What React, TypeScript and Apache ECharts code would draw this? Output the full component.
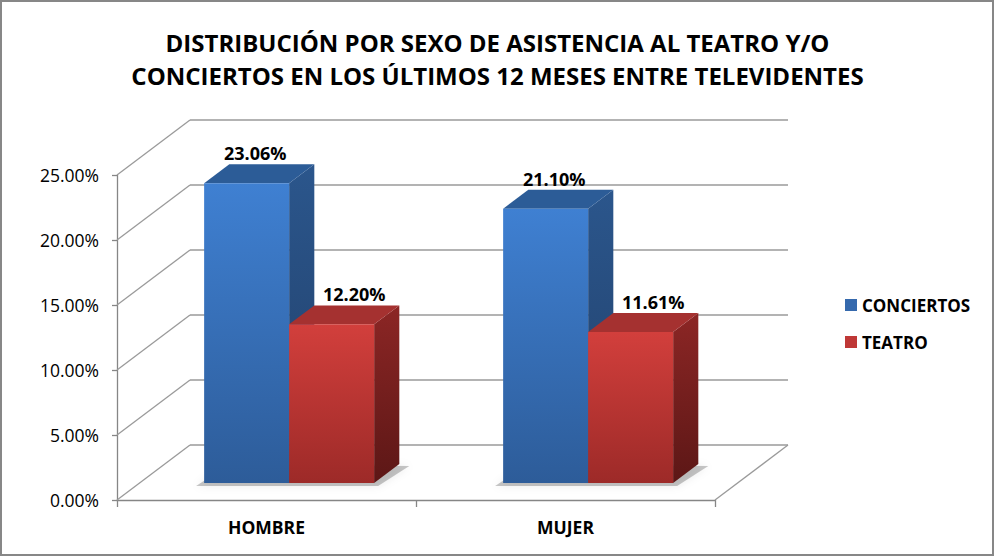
import React, { useEffect, useRef } from "react";
import * as echarts from "echarts";

// ---------- data ----------
const categories = ["HOMBRE", "MUJER"];
const seriesNames = ["CONCIERTOS", "TEATRO"];
const conciertos = [23.06, 21.1];
const teatro = [12.2, 11.61];
const yTicks = [0, 5, 10, 15, 20, 25];
const titleLines = [
  "DISTRIBUCIÓN POR SEXO DE ASISTENCIA AL TEATRO Y/O",
  "CONCIERTOS EN LOS ÚLTIMOS 12 MESES ENTRE TELEVIDENTES",
];

// ---------- 3D projection / style constants ----------
const WALL_DX = 73;
const WALL_DY = -55;
const FRONT_F = 0.31; // depth fraction of bar front face
const BACK_F = 0.655; // depth fraction of bar back face
const BAR_W_FRAC = 85 / 299; // bar width relative to category band
const GRID_COLOR = "#9a9a9a";
const AXIS_COLOR = "#868686";
const FONT = "Open Sans";

const palettes = [
  {
    front: ["#3f80d2", "#2d5c99"],
    side: ["#2b568c", "#213f69"],
    top: "#2c5c97",
    legend: "#3569ad",
    labelDx: -4,
  },
  {
    front: ["#d23f3c", "#9d2a28"],
    side: ["#8c2625", "#5c1716"],
    top: "#a53130",
    legend: "#bf3836",
    labelDx: 10,
  },
];

const vGrad = (c0: string, c1: string) =>
  new echarts.graphic.LinearGradient(0, 0, 0, 1, [
    { offset: 0, color: c0 },
    { offset: 1, color: c1 },
  ]);

function barRender(idx: number) {
  const pal = palettes[idx];
  return (params: any, api: any) => {
    const cat = api.value(0);
    const val = api.value(1);
    const top = api.coord([cat, val]);
    const base = api.coord([cat, 0]);
    const band = api.size([1, 0])[0];
    const w = band * BAR_W_FRAC;
    const fx = WALL_DX * FRONT_F;
    const fy = WALL_DY * FRONT_F;
    const ddx = WALL_DX * (BACK_F - FRONT_F);
    const ddy = WALL_DY * (BACK_F - FRONT_F);
    const x = top[0] - w + idx * w + fx;
    const yT = top[1] + fy;
    const yB = base[1] + fy;
    return {
      type: "group",
      children: [
        {
          type: "polygon",
          shape: {
            points: [
              [x + w, yT],
              [x + w + ddx, yT + ddy],
              [x + w + ddx, yB + ddy],
              [x + w, yB],
            ],
          },
          style: { fill: vGrad(pal.side[0], pal.side[1]) },
        },
        {
          type: "polygon",
          shape: {
            points: [
              [x, yT],
              [x + w, yT],
              [x + w + ddx, yT + ddy],
              [x + ddx, yT + ddy],
            ],
          },
          style: { fill: pal.top },
        },
        {
          type: "rect",
          shape: { x: x, y: yT, width: w, height: yB - yT },
          style: { fill: vGrad(pal.front[0], pal.front[1]) },
        },
        {
          type: "text",
          x: x + w / 2 + ddx / 2 + pal.labelDx,
          y: yT + ddy - 11,
          style: {
            text: val.toFixed(2) + "%",
            fill: "#000",
            fontSize: 18,
            fontWeight: "bold",
            fontFamily: FONT,
            align: "center",
            verticalAlign: "middle",
          },
        },
      ],
    };
  };
}

function shadowRender(params: any, api: any) {
  const cat = api.value(0);
  const base = api.coord([cat, 0]);
  const band = api.size([1, 0])[0];
  const w = band * BAR_W_FRAC;
  const fx = WALL_DX * FRONT_F;
  const fy = WALL_DY * FRONT_F;
  const ddx = WALL_DX * (BACK_F - FRONT_F);
  const ddy = WALL_DY * (BACK_F - FRONT_F);
  const x = base[0] - w + fx;
  const yB = base[1] + fy;
  return {
    type: "polygon",
    shape: {
      points: [
        [x - 8, yB + 3],
        [x + 2 * w + 4, yB + 3],
        [x + 2 * w + ddx + 10, yB + ddy + 2],
        [x + ddx, yB + ddy],
      ],
    },
    style: {
      fill: "rgba(0,0,0,0.22)",
      shadowBlur: 8,
      shadowColor: "rgba(0,0,0,0.35)",
    },
  };
}

function wallRender(params: any, api: any) {
  const v = api.value(1);
  const cs = params.coordSys;
  const y = api.coord([0, v])[1];
  const x0 = cs.x;
  const x1 = cs.x + cs.width;
  const style = { stroke: GRID_COLOR, lineWidth: 1.3 };
  const children: any[] = [
    {
      type: "line",
      shape: { x1: x0, y1: y, x2: x0 + WALL_DX, y2: y + WALL_DY },
      style,
    },
    {
      type: "line",
      shape: {
        x1: x0 + WALL_DX,
        y1: y + WALL_DY,
        x2: x1 + WALL_DX,
        y2: y + WALL_DY,
      },
      style,
    },
  ];
  if (v === 0) {
    children.push({
      type: "line",
      shape: { x1: x1, y1: y, x2: x1 + WALL_DX, y2: y + WALL_DY },
      style,
    });
  }
  return { type: "group", children };
}

const seriesValues = [conciertos, teatro];

const option: any = {
  animation: false,
  backgroundColor: "#ffffff",
  textStyle: { fontFamily: FONT },
  title: {
    text: titleLines.join("\n"),
    left: "center",
    top: 21,
    textStyle: {
      fontSize: 24,
      fontWeight: "bold",
      color: "#000",
      lineHeight: 33,
      fontFamily: FONT,
    },
  },
  legend: {
    orient: "vertical",
    left: 840,
    top: 291,
    itemWidth: 12,
    itemHeight: 12,
    itemGap: 19,
    icon: "rect",
    data: seriesNames,
    textStyle: {
      fontSize: 17,
      fontWeight: "bold",
      color: "#000",
      lineHeight: 18,
      fontFamily: FONT,
    },
  },
  grid: { left: 117, top: 175, width: 598, height: 325 },
  xAxis: {
    type: "category",
    data: categories,
    axisLine: { show: true, lineStyle: { color: AXIS_COLOR, width: 1.3 } },
    axisTick: { show: true, length: 7, lineStyle: { color: AXIS_COLOR, width: 1.3 } },
    axisLabel: {
      margin: 17,
      fontSize: 17.5,
      fontWeight: "bold",
      color: "#000",
      lineHeight: 20,
      fontFamily: FONT,
    },
    splitLine: { show: false },
  },
  yAxis: {
    type: "value",
    min: 0,
    max: 25,
    interval: 5,
    axisLine: { show: true, lineStyle: { color: AXIS_COLOR, width: 1.3 } },
    axisTick: { show: true, length: 5, lineStyle: { color: AXIS_COLOR, width: 1.3 } },
    axisLabel: {
      margin: 18,
      fontSize: 17.5,
      color: "#000",
      fontFamily: FONT,
      formatter: (v: number) => v.toFixed(2) + "%",
    },
    splitLine: { show: false },
  },
  graphic: [
    {
      type: "rect",
      shape: { x: 1, y: 1, width: 992, height: 554 },
      style: { fill: "none", stroke: "#878787", lineWidth: 2 },
      silent: true,
      z: 100,
    },
  ],
  series: [
    {
      type: "custom",
      name: "walls",
      z: 1,
      silent: true,
      renderItem: wallRender,
      encode: { x: 0, y: 1 },
      data: yTicks.map((v) => [0, v]),
    },
    {
      type: "custom",
      name: "shadow",
      z: 2,
      silent: true,
      renderItem: shadowRender,
      encode: { x: 0, y: 1 },
      data: categories.map((c, i) => [i, 0]),
    },
    ...seriesNames.map((name, si) => ({
      type: "custom",
      name,
      z: 3,
      renderItem: barRender(si),
      itemStyle: { color: palettes[si].legend },
      encode: { x: 0, y: 1 },
      data: categories.map((c, i) => [i, seriesValues[si][i]]),
    })),
  ],
};

export default function App() {
  const ref = useRef<HTMLDivElement>(null);
  useEffect(() => {
    document.body.style.margin = "0";
    const chart = echarts.init(ref.current!, undefined, { renderer: "svg" });
    chart.setOption(option);
    return () => chart.dispose();
  }, []);
  return <div ref={ref} style={{ width: 995, height: 557, background: "#fff" }} />;
}
